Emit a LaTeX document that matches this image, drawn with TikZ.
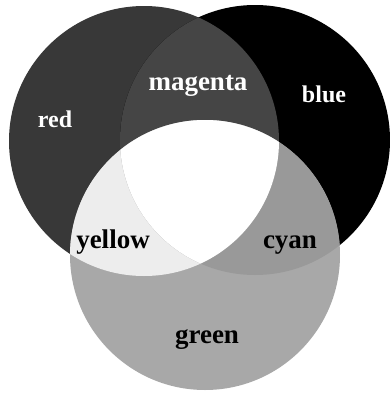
\documentclass[tikz,border=0pt]{standalone}
\usepackage{fontspec}
\setmainfont{Liberation Serif}
\usetikzlibrary{positioning}
\definecolor{redgray}{gray}{0.22}
\definecolor{maggray}{gray}{0.27}
\definecolor{grngray}{gray}{0.66}
\definecolor{cyangray}{gray}{0.60}
\definecolor{yelgray}{gray}{0.93}
\tikzset{lbl/.style={font=\fontsize{27}{32}\selectfont\bfseries,anchor=base,inner sep=0pt},
  small lbl/.style={lbl,font=\fontsize{24}{28}\selectfont\bfseries}}
\begin{document}
\begin{tikzpicture}[x=1pt,y=-1pt]
\useasboundingbox (0,0) rectangle (390,394);
\coordinate (R) at (144,141);
\coordinate (B) at (255,140);
\coordinate (G) at (205,255);
\fill[redgray] (R) circle (135pt);
\fill[black] (B) circle (135pt);
\fill[grngray] (G) circle (135pt);
\begin{scope}
  \clip (R) circle (135pt);
  \fill[maggray] (B) circle (135pt);
  \fill[yelgray] (G) circle (135pt);
\end{scope}
\begin{scope}
  \clip (B) circle (135pt);
  \fill[cyangray] (G) circle (135pt);
  \clip (R) circle (135pt);
  \fill[white] (G) circle (135pt);
\end{scope}
\node[small lbl,white] (redlbl) at (55,127) {red};
\node[lbl,white] (maglbl) at (198,90) {magenta};
\node[small lbl,white] (bluelbl) at (324,102) {blue};
\node[lbl] (yellbl) at (113,248) {yellow};
\node[lbl] (cyanlbl) at (290,248) {cyan};
\node[lbl] (grnlbl) at (207,343) {green};
\end{tikzpicture}
\end{document}
